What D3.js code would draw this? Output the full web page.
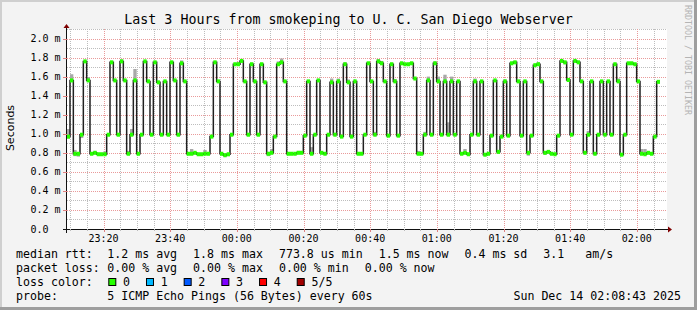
<!DOCTYPE html>
<html>
<head>
<meta charset="utf-8">
<script src="https://cdn.jsdelivr.net/npm/d3@7"></script>
<style>
  body { margin: 0; background: #f3f3f3; }
  svg { display: block; }
  text { font-family: "DejaVu Sans Mono", monospace; fill: #000; }
</style>
</head>
<body>
<div id="chart"></div>
<script>
// median rtt per 60s step, in ms
const medians = [
  0.97, 1.56, 0.79, 0.79, 0.99, 1.76, 1.56, 0.79, 0.80, 0.785,
  0.785, 0.785, 0.99, 1.75, 1.56, 0.99, 1.76, 1.56, 0.79, 0.99,
  1.56, 0.79, 0.99, 1.76, 1.55, 0.99, 1.75, 1.54, 0.99, 1.55,
  0.99, 1.75, 1.56, 0.99, 1.74, 1.55, 0.79, 0.79, 0.80, 0.785,
  0.785, 0.79, 0.79, 0.97, 1.75,
  1.55, 0.79, 0.775, 0.785, 0.99, 1.73, 1.73, 1.765, 1.55, 0.99,
  1.73, 1.55, 0.99, 1.73, 1.54, 0.79, 0.80, 0.97, 1.73, 1.75,
  1.55, 0.79, 0.79, 0.79, 0.80, 0.80, 0.98, 1.55, 0.79, 0.99,
  1.56, 0.80, 0.79, 0.99, 1.54, 0.99, 1.55, 0.97, 1.73, 1.54,
  0.97, 1.55, 0.79, 0.79, 0.99,
  1.74, 1.55, 0.99, 1.76, 1.74, 1.55, 0.98, 1.73, 1.55, 0.98,
  1.74, 1.73, 1.73, 1.74, 1.58, 0.79, 0.79, 0.99, 1.56, 0.99,
  1.74, 1.55, 0.99, 1.55, 0.99, 1.55, 0.99, 1.55, 0.79, 0.80,
  0.785, 0.99, 1.55, 0.99, 1.55, 0.78, 0.79, 0.98, 1.56, 0.81,
  0.97, 1.55, 0.98, 1.74, 1.75,
  1.55, 0.98, 1.55, 0.80, 0.98, 1.72, 1.73, 1.55, 0.80, 0.81,
  0.79, 0.785, 0.98, 1.765, 1.75, 1.565, 0.99, 1.765, 1.75, 1.55,
  0.80, 0.99, 1.55, 0.79, 0.99, 1.55, 0.99, 1.55, 0.99, 1.73,
  1.55, 0.78, 0.99, 1.74, 1.74, 1.73, 1.55, 0.79, 0.785, 0.80,
  0.79, 0.97, 1.545
];

// smoke spread above / below the median, in ms
const smokeUp = [
  0.08, 0.065, 0.04, 0, 0, 0, 0.035, 0, 0.02, 0,
  0, 0.03, 0, 0, 0, 0, 0.02, 0, 0.03, 0.06,
  0.12, 0, 0, 0, 0, 0, 0, 0, 0, 0,
  0, 0, 0, 0, 0.03, 0, 0, 0.05, 0, 0,
  0, 0.04, 0, 0, 0, 0, 0, 0.01, 0, 0,
  0, 0.025, 0.015, 0, 0, 0.01, 0, 0, 0, 0,
  0.02, 0.04, 0, 0.03, 0.04, 0.01, 0, 0, 0, 0.02,
  0.02, 0, 0, 0.07, 0, 0, 0.01, 0, 0, 0.04,
  0.02, 0.03, 0, 0.02, 0.03, 0.02, 0, 0, 0, 0,
  0.01, 0, 0.03, 0.025, 0.025, 0, 0, 0, 0.025, 0,
  0, 0, 0, 0, 0, 0.03, 0, 0.03, 0.04, 0,
  0.02, 0.05, 0, 0.07, 0.13, 0.05, 0, 0, 0, 0.04,
  0, 0.02, 0.03, 0, 0, 0, 0, 0, 0, 0,
  0, 0.02, 0, 0, 0.015, 0, 0, 0, 0, 0,
  0, 0.02, 0, 0, 0, 0, 0, 0, 0, 0,
  0, 0, 0.01, 0.015, 0, 0, 0.04, 0, 0, 0,
  0, 0.02, 0, 0, 0, 0.03, 0, 0, 0, 0,
  0, 0.01, 0.05, 0.055, 0, 0, 0, 0
];
const smokeDown = [
  0.02, 0, 0.025, 0.03, 0.035, 0, 0, 0, 0.01, 0,
  0, 0, 0, 0, 0, 0, 0, 0, 0.01, 0,
  0, 0, 0, 0, 0, 0, 0, 0, 0, 0,
  0, 0, 0, 0, 0, 0, 0, 0, 0, 0,
  0, 0, 0, 0, 0, 0, 0, 0.02, 0.02, 0,
  0, 0, 0, 0, 0, 0, 0, 0, 0, 0,
  0.025, 0, 0, 0, 0, 0, 0, 0, 0.01, 0,
  0, 0, 0, 0, 0, 0, 0, 0, 0, 0,
  0, 0, 0, 0, 0, 0, 0, 0, 0, 0,
  0, 0, 0, 0, 0, 0, 0, 0, 0, 0,
  0, 0, 0, 0, 0, 0, 0, 0, 0, 0,
  0, 0, 0, 0, 0, 0, 0, 0, 0, 0,
  0, 0, 0, 0, 0, 0, 0, 0, 0, 0.02,
  0, 0, 0, 0, 0, 0, 0, 0, 0.03, 0,
  0, 0, 0.02, 0.02, 0, 0, 0, 0, 0, 0.02,
  0, 0, 0, 0, 0, 0, 0, 0, 0, 0,
  0, 0, 0, 0, 0, 0, 0, 0, 0, 0,
  0, 0, 0, 0, 0, 0, 0, 0
];

const firstSample = new Date(2025, 11, 13, 23, 8, 57);
const stepSeconds = 60;
const viewStart = new Date(2025, 11, 13, 23, 9, 3);
const viewEnd = new Date(2025, 11, 14, 2, 9, 3);
const yTickValues = [0, 0.2, 0.4, 0.6, 0.8, 1.0, 1.2, 1.4, 1.6, 1.8, 2.0];

const titleText = "Last 3 Hours from smokeping to U. C. San Diego Webserver";
const rttStats = ["1.2 ms avg", "1.8 ms max", "773.8 us min", "1.5 ms now", "0.4 ms sd", "3.1   am/s"];
const lossStats = ["0.00 % avg", "0.00 % max", "0.00 % min", "0.00 % now"];
const lossLabels = ["0", "1", "2", "3", "4", "5/5"];
const lossColors = ["#26ff00", "#00b8ff", "#0059ff", "#7e00ff", "#ff0000", "#a10000"];
const probeText = "5 ICMP Echo Pings (56 Bytes) every 60s";
const dateText = "Sun Dec 14 02:08:43 2025";

const width = 697, height = 310;
const plot = { left: 67, right: 667, top: 29, bottom: 229 };

const svg = d3.select("#chart").append("svg")
  .attr("width", width)
  .attr("height", height);

// background + bevel
svg.append("rect").attr("width", width).attr("height", height).attr("fill", "#f3f3f3");
svg.append("rect").attr("width", width).attr("height", 2).attr("fill", "#cfcfcf");
svg.append("rect").attr("width", 2).attr("height", height).attr("fill", "#cfcfcf");
svg.append("rect").attr("y", height - 3).attr("width", width).attr("height", 3).attr("fill", "#9e9e9e");
svg.append("rect").attr("x", width - 3).attr("width", 3).attr("height", height).attr("fill", "#9e9e9e");

const x = d3.scaleTime().domain([viewStart, viewEnd]).range([plot.left, plot.right]);
const y = d3.scaleLinear().domain([0, 2.1]).range([plot.bottom, plot.top]);

svg.append("rect")
  .attr("x", plot.left).attr("y", plot.top)
  .attr("width", plot.right - plot.left).attr("height", plot.bottom - plot.top)
  .attr("fill", "#fff");

const px = v => Math.round(v) + 0.5;

// grid
const grid = svg.append("g").attr("stroke-width", 1).attr("stroke-dasharray", "1,1").attr("fill", "none");
const minorY = d3.range(1, 22).map(i => i / 10).filter(v => Math.round(v * 10) % 2 === 1);
const majorY = yTickValues.filter(v => v > 0);
const minorX = d3.timeMinute.every(5).range(viewStart, viewEnd).filter(d => d.getMinutes() % 20 !== 0);
const majorX = d3.timeMinute.every(20).range(viewStart, viewEnd);

grid.selectAll(".hmin").data(minorY).join("line")
  .attr("x1", plot.left).attr("x2", plot.right)
  .attr("y1", d => px(y(d))).attr("y2", d => px(y(d)))
  .attr("stroke", "#bdbdbd");
grid.selectAll(".vmin").data(minorX).join("line")
  .attr("y1", plot.top).attr("y2", plot.bottom)
  .attr("x1", d => px(x(d))).attr("x2", d => px(x(d)))
  .attr("stroke", "#bdbdbd");
grid.selectAll(".hmaj").data(majorY).join("line")
  .attr("x1", plot.left).attr("x2", plot.right)
  .attr("y1", d => px(y(d))).attr("y2", d => px(y(d)))
  .attr("stroke", "#e99a9a");
grid.selectAll(".vmaj").data(majorX).join("line")
  .attr("y1", plot.top).attr("y2", plot.bottom)
  .attr("x1", d => px(x(d))).attr("x2", d => px(x(d)))
  .attr("stroke", "#e99a9a");

// samples
const samples = medians.map((m, i) => ({
  t0: new Date(firstSample.getTime() + i * stepSeconds * 1000),
  t1: new Date(firstSample.getTime() + (i + 1) * stepSeconds * 1000),
  med: m,
  up: smokeUp[i],
  down: smokeDown[i]
}));

// smoke
svg.append("g").selectAll("rect")
  .data(samples.filter(d => d.up > 0 || d.down > 0))
  .join("rect")
  .attr("x", d => x(d.t0))
  .attr("width", d => x(d.t1) - x(d.t0))
  .attr("y", d => y(d.med + d.up))
  .attr("height", d => y(d.med - d.down) - y(d.med + d.up))
  .attr("fill", "#a8a8a8");

// median step line
const stepPoints = samples.map(d => [d.t0, d.med]);
stepPoints.push([samples[samples.length - 1].t1, samples[samples.length - 1].med]);
svg.append("path")
  .datum(stepPoints)
  .attr("fill", "none")
  .attr("stroke", "#202020")
  .attr("stroke-width", 1.5)
  .attr("d", d3.line().x(d => x(d[0])).y(d => y(d[1])).curve(d3.curveStepAfter));

// loss-coloured median band
svg.append("g").selectAll("rect")
  .data(samples)
  .join("rect")
  .attr("x", d => x(d.t0))
  .attr("width", d => x(d.t1) - x(d.t0))
  .attr("y", d => y(d.med) - 2)
  .attr("height", 4)
  .attr("fill", lossColors[0]);

// axes
const axisG = svg.append("g");
axisG.append("line")
  .attr("x1", plot.left - 4).attr("x2", plot.right + 1)
  .attr("y1", plot.bottom + 0.5).attr("y2", plot.bottom + 0.5)
  .attr("stroke", "#111");
axisG.append("line")
  .attr("x1", plot.left - 0.5).attr("x2", plot.left - 0.5)
  .attr("y1", plot.bottom + 4).attr("y2", plot.top - 1)
  .attr("stroke", "#111");
axisG.append("path")
  .attr("d", `M${plot.right + 1},${plot.bottom - 2.5}L${plot.right + 5},${plot.bottom + 0.5}L${plot.right + 1},${plot.bottom + 3.5}Z`)
  .attr("fill", "#7f0000");
axisG.append("path")
  .attr("d", `M${plot.left - 3.5},${plot.top - 1}L${plot.left - 0.5},${plot.top - 5}L${plot.left + 2.5},${plot.top - 1}Z`)
  .attr("fill", "#7f0000");

// tick marks
axisG.selectAll(".xt").data(majorX).join("line")
  .attr("x1", d => px(x(d))).attr("x2", d => px(x(d)))
  .attr("y1", plot.bottom).attr("y2", plot.bottom + 3)
  .attr("stroke", "#e08080");
axisG.selectAll(".xtm").data(minorX).join("line")
  .attr("x1", d => px(x(d))).attr("x2", d => px(x(d)))
  .attr("y1", plot.bottom).attr("y2", plot.bottom + 2)
  .attr("stroke", "#bbb");
axisG.selectAll(".yt").data(yTickValues).join("line")
  .attr("x1", plot.left - 4).attr("x2", plot.left)
  .attr("y1", d => px(y(d))).attr("y2", d => px(y(d)))
  .attr("stroke", d => d === 0 ? "#111" : "#e08080");

// tick labels
const fmtTime = d3.timeFormat("%H:%M");
svg.append("g").selectAll("text").data(majorX).join("text")
  .attr("x", d => x(d)).attr("y", plot.bottom + 13)
  .attr("text-anchor", "middle")
  .style("font-size", "10px")
  .text(d => fmtTime(d));
svg.append("g").selectAll("text").data(yTickValues).join("text")
  .attr("x", 30.5).attr("y", d => y(d) + 3.5)
  .style("font-size", "10px")
  .text(d => d === 0 ? "0.0" : d3.format(".1f")(d) + " m");

// titles
svg.append("text")
  .attr("x", width / 2).attr("y", 23.5)
  .attr("text-anchor", "middle")
  .style("font-size", "13.3px")
  .text(titleText);
svg.append("text")
  .attr("transform", "translate(14,128) rotate(-90)")
  .attr("text-anchor", "middle")
  .style("font-family", "'DejaVu Sans', sans-serif")
  .style("font-size", "11px")
  .text("Seconds");
svg.append("text")
  .attr("transform", "translate(685,5) rotate(90)")
  .style("font-size", "8.3px")
  .style("fill", "#b4b4b4")
  .text("RRDTOOL / TOBI OETIKER");

// legend
const legend = svg.append("g").style("font-size", "11.6px");
const col1 = 16, col2 = 107.3, gap = 16;
const rowY = [258, 272, 286, 300];

function flowRow(items, yPos) {
  let cx = col2;
  items.forEach(s => {
    const t = legend.append("text").attr("x", cx).attr("y", yPos)
      .style("white-space", "pre").text(s);
    cx += t.node().getComputedTextLength() + gap;
  });
}

legend.append("text").attr("x", col1).attr("y", rowY[0]).text("median rtt:");
flowRow(rttStats, rowY[0]);
legend.append("text").attr("x", col1).attr("y", rowY[1]).text("packet loss:");
flowRow(lossStats, rowY[1]);
legend.append("text").attr("x", col1).attr("y", rowY[2]).text("loss color:");

let lx = col2 + 1;
lossLabels.forEach((lab, i) => {
  legend.append("rect")
    .attr("x", lx + 0.5).attr("y", rowY[2] - 7.5)
    .attr("width", 7).attr("height", 7)
    .attr("fill", lossColors[i]).attr("stroke", "#000").attr("stroke-width", 1);
  const t = legend.append("text").attr("x", lx + 14.7).attr("y", rowY[2]).text(lab);
  lx += 14.7 + t.node().getComputedTextLength() + gap;
});

legend.append("text").attr("x", col1).attr("y", rowY[3]).text("probe:");
legend.append("text").attr("x", col2).attr("y", rowY[3]).text(probeText);
legend.append("text").attr("x", 681).attr("y", rowY[3]).attr("text-anchor", "end").text(dateText);
</script>
</body>
</html>
